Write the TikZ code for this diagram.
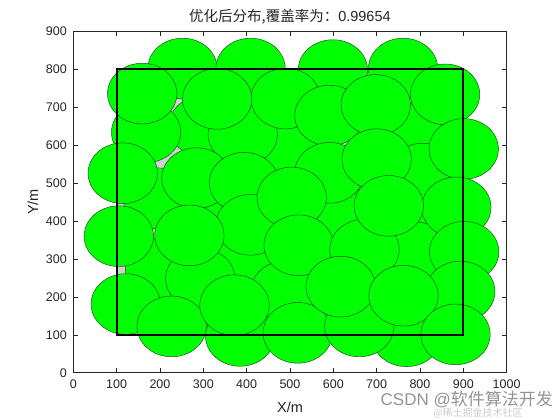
\documentclass[tikz,border=0pt]{standalone}
\usepackage{fontspec}
\setmainfont{Liberation Sans}
\newfontfamily\cjk{Noto Sans CJK SC}
\definecolor{cgreen}{RGB}{0,255,0}
\definecolor{cedge}{RGB}{25,70,25}
\definecolor{gapgray}{RGB}{208,208,208}
\definecolor{axcol}{RGB}{38,38,38}
\begin{document}
\begin{tikzpicture}[x=0.43333pt,y=0.37922pt,
  circ/.style={fill=cgreen,draw=cedge,line width=0.45pt},
  ticklab/.style={font=\fontsize{12.5}{12.5}\selectfont,text=axcol,inner sep=0pt},
  axlab/.style={font=\fontsize{14.5}{14.5}\selectfont,text=axcol,inner sep=0pt}]
\useasboundingbox[fill=white] (-73.3pt,-47.3pt) rectangle (486.7pt,372.7pt);
% target region
\fill[gapgray] (100,100) rectangle (900,800);
% circles (sensor coverage), bottom to top
\foreach \cx/\cy in {
  200/275, 380/295, 490/215, 610/420, 500/600, 790/630, 195/460, 330/430, 300/650, 800/400,
  252/802, 409/802, 599/798, 761/802,
  168/634, 391/628,
  490/723, 591/678, 698/706, 858/734, 159/736, 332/722,
  806/525, 591/527, 901/590, 700/563,
  114/526, 284/513, 394/501,
  409/390, 504/462,
  105/360, 293/248, 268/362, 520/336,
  790/317, 884/436, 902/319, 672/325, 728/440,
  893/214, 385/97, 121/181, 227/122, 372/178, 518/105, 769/96, 660/122,
  617/227, 762/203, 882/101}
  {\path[circ] (\cx,\cy) ellipse [x radius=34.667pt, y radius=30.338pt];}
% region border
\draw[black,line width=2pt] (100,100) rectangle (900,800);
% axes box and ticks
\draw[axcol,line width=0.5pt] (0,0) rectangle (1000,900);
\foreach \x in {0,100,...,1000}{
  \draw[axcol,line width=0.5pt] (\x,0) -- ++(0,4.33pt);
  \draw[axcol,line width=0.5pt] (\x,900) -- ++(0,-4.33pt);
  \node[ticklab] at (\x,0) [yshift=-11.5pt] {\x};
}
\foreach \y in {0,100,...,900}{
  \draw[axcol,line width=0.5pt] (0,\y) -- ++(4.33pt,0);
  \draw[axcol,line width=0.5pt] (1000,\y) -- ++(-4.33pt,0);
  \node[ticklab,anchor=east] at (0,\y) [xshift=-6.3pt] {\y};
}
\node[axlab] (title) at (500,900) [yshift=14.4pt] {{\cjk 优化后分布,覆盖率为：}0.99654};
\node[axlab] (xl) at (500,0) [yshift=-34.3pt] {X/m};
\node[axlab,rotate=90] (yl) at (-93,450) {Y/m};
% watermark
\node[anchor=east,inner sep=0pt,text=black!42,font=\fontsize{17}{17}\selectfont] (wm) at (0,0) [xshift=479.7pt,yshift=-26.8pt] {CSDN @{\cjk 软件算法开发}};
\node[inner sep=0pt,text=black!20,font=\cjk\fontsize{10}{10}\selectfont] (wm2) at (0,0) [xshift=404.7pt,yshift=-40.5pt] {@稀土掘金技术社区};
\end{tikzpicture}
\end{document}
